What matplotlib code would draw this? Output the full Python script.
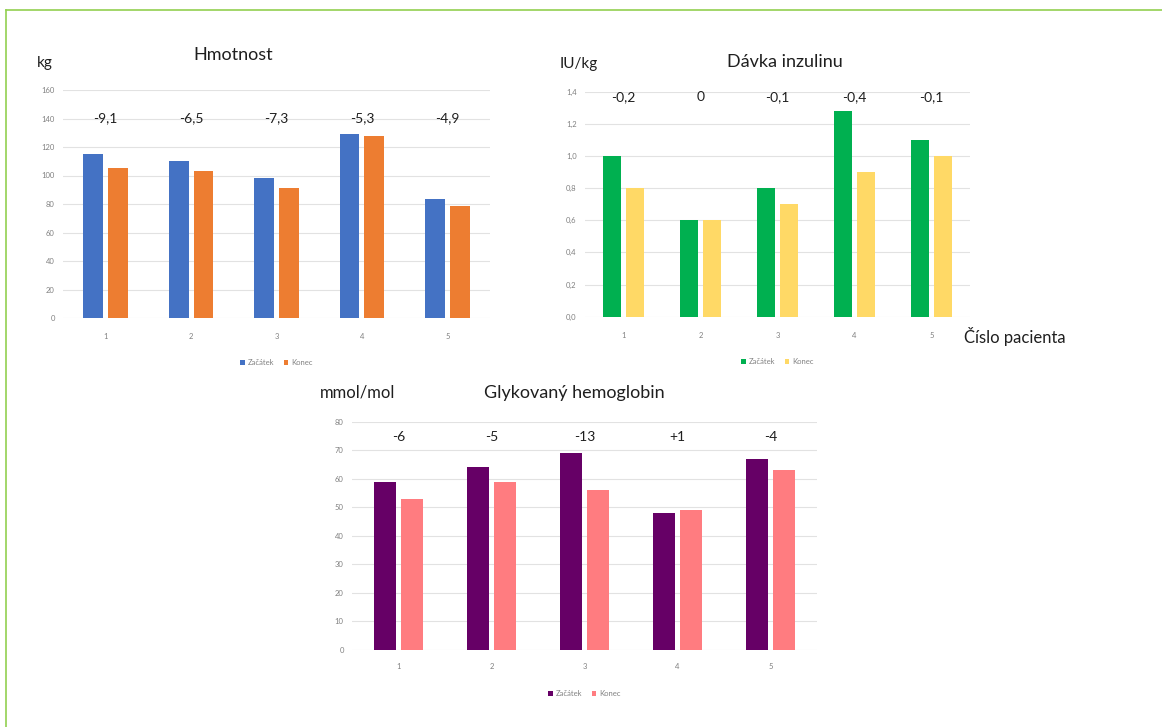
import matplotlib.pyplot as plt
from matplotlib.lines import Line2D

plt.rcParams['font.family'] = ['Lato', 'DejaVu Sans']

patients = ['1', '2', '3', '4', '5']
series_names = ['Začátek', 'Konec']

weight_start = [115, 110, 98.5, 129, 83.5]
weight_end = [105.5, 103, 91, 128, 78.5]
weight_diff = ['-9,1', '-6,5', '-7,3', '-5,3', '-4,9']
weight_ticks = [0, 20, 40, 60, 80, 100, 120, 140, 160]

insulin_start = [1.0, 0.6, 0.8, 1.28, 1.1]
insulin_end = [0.8, 0.6, 0.7, 0.9, 1.0]
insulin_diff = ['-0,2', '0', '-0,1', '-0,4', '-0,1']
insulin_ticks = [0.0, 0.2, 0.4, 0.6, 0.8, 1.0, 1.2, 1.4]

hba1c_start = [59, 64, 69, 48, 67]
hba1c_end = [53, 59, 56, 49, 63]
hba1c_diff = ['-6', '-5', '-13', '+1', '-4']
hba1c_ticks = [0, 10, 20, 30, 40, 50, 60, 70, 80]

W, H = 1162, 727
fig = plt.figure(figsize=(W / 100, H / 100), dpi=100)


def px_axes(x0, x1, ytop, ybot):
    return fig.add_axes([x0 / W, 1 - ybot / H, (x1 - x0) / W, (ybot - ytop) / H])


def bar_chart(ax, start, end, diffs, ticks, colors, label_y, tick_fmt, pad):
    x = range(len(patients))
    w = 0.23
    off = 0.145
    ax.bar([i - off for i in x], start, width=w, color=colors[0], label=series_names[0], zorder=3)
    ax.bar([i + off for i in x], end, width=w, color=colors[1], label=series_names[1], zorder=3)
    ax.set_xlim(-0.5, len(patients) - 0.5)
    ax.set_ylim(ticks[0], ticks[-1])
    ax.set_yticks(ticks)
    ax.set_yticklabels([tick_fmt(t) for t in ticks])
    ax.set_xticks(list(x))
    ax.set_xticklabels(patients)
    ax.grid(axis='y', color='#e2e2e2', linewidth=0.8, zorder=0)
    for s in ax.spines.values():
        s.set_visible(False)
    ax.tick_params(axis='both', length=0, labelsize=5.5, labelcolor='#808080')
    ax.tick_params(axis='x', pad=pad)
    ax.tick_params(axis='y', pad=6)
    for i, d in enumerate(diffs):
        ax.text(i, label_y, d, transform=ax.get_xaxis_transform(), ha='center', va='center',
                fontsize=10, color='#1f1f1f')
    ax.legend(loc='center', bbox_to_anchor=(0.5, -0.195), ncol=2, frameon=False, fontsize=5.5,
              handlelength=0.6, handleheight=0.7, columnspacing=1.2, handletextpad=0.4,
              labelcolor='#808080')


# weight
ax1 = px_axes(63, 490, 90, 318)
bar_chart(ax1, weight_start, weight_end, weight_diff, weight_ticks,
          ['#4472c4', '#ed7d31'], 0.877, lambda t: f'{t:d}', 11)
fig.text(37 / W, 1 - 63 / H, 'kg', fontsize=11, color='#1f1f1f', va='center', ha='left')
fig.text(233 / W, 1 - 55 / H, 'Hmotnost', fontsize=13, color='#1f1f1f', va='center', ha='center')

# insulin dose
ax2 = px_axes(585, 970, 91.7, 316.7)
bar_chart(ax2, insulin_start, insulin_end, insulin_diff, insulin_ticks,
          ['#00b050', '#ffd966'], 0.976, lambda t: f'{t:.1f}'.replace('.', ','), 11)
ax2.legend_.set_bbox_to_anchor((0.5, -0.2), transform=ax2.transAxes)
fig.text(560 / W, 1 - 64 / H, 'IU/kg', fontsize=11, color='#1f1f1f', va='center', ha='left')
fig.text(785 / W, 1 - 62 / H, 'Dávka inzulinu', fontsize=13, color='#1f1f1f', va='center', ha='center')
fig.text(964 / W, 1 - 336 / H, 'Číslo pacienta', fontsize=12, color='#1f1f1f', va='center', ha='left')

# glycated haemoglobin
ax3 = px_axes(352, 817, 421.7, 650)
bar_chart(ax3, hba1c_start, hba1c_end, hba1c_diff, hba1c_ticks,
          ['#660066', '#ff7c80'], 0.933, lambda t: f'{t:d}', 9.5)
ax3.legend_.set_bbox_to_anchor((0.5, -0.19), transform=ax3.transAxes)
fig.text(320 / W, 1 - 393 / H, 'mmol/mol', fontsize=12, color='#1f1f1f', va='center', ha='left')
fig.text(574 / W, 1 - 393 / H, 'Glykovaný hemoglobin', fontsize=13, color='#1f1f1f',
         va='center', ha='center')

# green frame on top and left
fig.add_artist(Line2D([6 / W, 1], [1 - 10 / H, 1 - 10 / H], color='#92d050', linewidth=1.2))
fig.add_artist(Line2D([6 / W, 6 / W], [0, 1 - 10 / H], color='#92d050', linewidth=1.2))

fig.savefig('out.png', dpi=100, facecolor='white')
